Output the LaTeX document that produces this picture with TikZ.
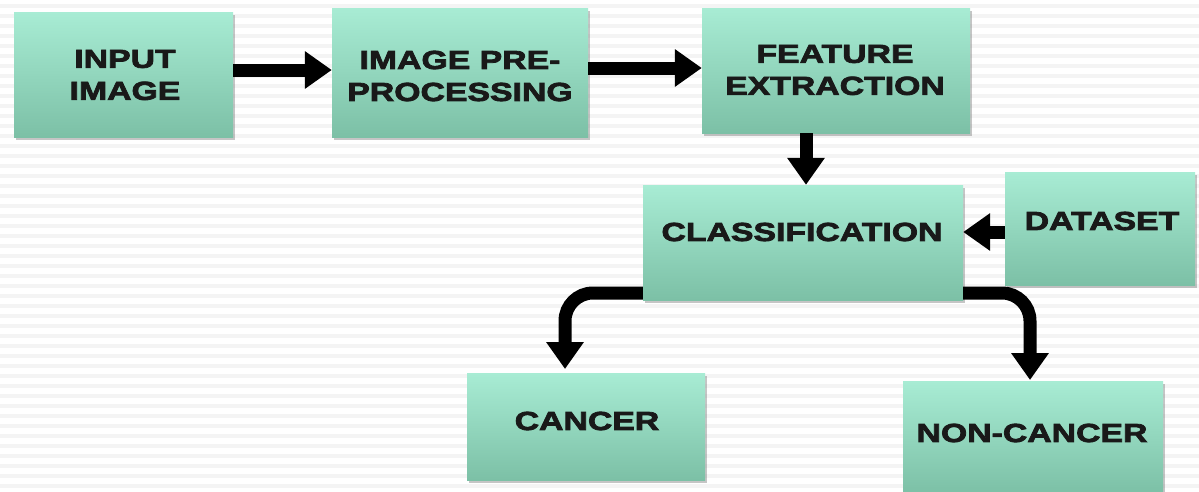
\documentclass[tikz,border=0pt]{standalone}
\usepackage{fontspec}
\newfontfamily\heavy{Liberation Sans}[BoldFeatures={FakeBold=3,FakeStretch=1.3},UprightFeatures={FakeStretch=1.3}]
\usetikzlibrary{arrows.meta,shadows}
\definecolor{boxtop}{RGB}{168,236,212}
\definecolor{boxbot}{RGB}{124,192,166}
\definecolor{stripe}{RGB}{244,244,244}
\tikzset{
  box/.style={rectangle, draw=none, top color=boxtop, bottom color=boxbot,
    drop shadow={shadow xshift=2pt, shadow yshift=-3pt, fill=black!45, opacity=0.5}},
  lbl/.style={font=\heavy\bfseries\fontsize{26}{32}\selectfont, align=center, text=black!90},
  flow/.style={line width=13pt, black, -{Triangle[width=36pt,length=27pt]}},
}
\begin{document}
\begin{tikzpicture}[x=1pt,y=-1pt]
\useasboundingbox (0,0) rectangle (1199,491);
\fill[white] (0,0) rectangle (1199,491);
\foreach \yy in {4,14,...,484} {\fill[stripe] (0,\yy) rectangle (1199,\yy+4);}
% boxes
\node[box, minimum width=219pt, minimum height=125pt] (inp) at (123.5,74.5) {};
\node[box, minimum width=256pt, minimum height=129pt] (pre) at (460,72.5) {};
\node[box, minimum width=268pt, minimum height=125pt] (fea) at (836,70.5) {};
\node[box, minimum width=320pt, minimum height=115pt] (cls) at (803,242.5) {};
\node[box, minimum width=190pt, minimum height=113pt] (dat) at (1100,228.5) {};
\node[box, minimum width=238pt, minimum height=107pt] (can) at (586,426.5) {};
\node[box, minimum width=260pt, minimum height=112pt] (non) at (1033,437) {};
% labels
\node[lbl] (tinp) at (125,75) {INPUT\\IMAGE};
\node[lbl] (tpre) at (460,76) {IMAGE PRE-\\PROCESSING};
\node[lbl] (tfea) at (835,70) {FEATURE\\EXTRACTION};
\node[lbl] (tcls) at (802,232) {CLASSIFICATION};
\node[lbl] (tdat) at (1102,221) {DATASET};
\node[lbl] (tcan) at (587,421) {CANCER};
\node[lbl] (tnon) at (1032,433) {NON-CANCER};
% connectors
\draw[flow] (inp.east |- 0,70) -- (pre.west |- 0,70);
\draw[flow] (pre.east |- 0,68) -- (fea.west |- 0,68);
\draw[flow] (fea.south -| 806,0) -- (cls.north -| 806,0);
\draw[flow] (dat.west |- 0,232) -- (cls.east |- 0,232);
\coordinate (lc) at (565,369);
\coordinate (rc) at (1030,380);
\draw[flow, rounded corners=28pt] (cls.west |- 0,293) -- (lc |- 0,293) -- (lc);
\draw[flow, rounded corners=28pt] (cls.east |- 0,293) -- (rc |- 0,293) -- (rc);
\end{tikzpicture}
\end{document}
